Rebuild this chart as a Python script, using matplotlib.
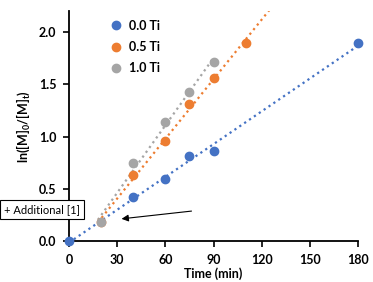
import numpy as np
import matplotlib
matplotlib.use('Agg')
import matplotlib.pyplot as plt

# данные
t_00 = [0, 40, 60, 75, 90, 180]
y_00 = [0.0, 0.42, 0.59, 0.81, 0.86, 1.89]

t_05 = [20, 40, 60, 75, 90, 110]
y_05 = [0.18, 0.63, 0.96, 1.31, 1.56, 1.89]

t_10 = [20, 40, 60, 75, 90]
y_10 = [0.18, 0.75, 1.14, 1.43, 1.71]

labels = ['0.0 Ti', '0.5 Ti', '1.0 Ti']
colors = ['#4472C4', '#ED7D31', '#A5A5A5']
x_ticks = [0, 30, 60, 90, 120, 150, 180]
y_ticks = [0.0, 0.5, 1.0, 1.5, 2.0]

plt.rcParams['font.family'] = ['Lato', 'DejaVu Sans']
plt.rcParams['font.weight'] = 'bold'
plt.rcParams['mathtext.fontset'] = 'custom'
plt.rcParams['mathtext.bf'] = 'Lato:bold'
plt.rcParams['mathtext.rm'] = 'Lato:bold'

fig = plt.figure(figsize=(3.73, 2.82), dpi=100)
ax = fig.add_axes([0.185, 0.145, 0.775, 0.816])

series = [(t_00, y_00), (t_05, y_05), (t_10, y_10)]
fit_ranges = [(0, 180), (18, 126), (18, 90)]

# линии тренда
for (t, y), (x0, x1), c in zip(series, fit_ranges, colors):
    k, b = np.polyfit(t, y, 1)
    xx = np.array([x0, x1])
    ax.plot(xx, k * xx + b, ':', color=c, lw=1.6, zorder=2)

# точки
for (t, y), c, lab in zip(series, colors, labels):
    ax.plot(t, y, 'o', color=c, ms=6, label=lab, zorder=3, clip_on=False)

ax.set_xlim(0, 180)
ax.set_ylim(0, 2.2)
ax.set_xticks(x_ticks)
ax.set_yticks(y_ticks)
ax.set_yticklabels([f'{v:.1f}' for v in y_ticks])
ax.tick_params(labelsize=9, width=1.2, length=4, colors='black', pad=5)
for s in ['top', 'right']:
    ax.spines[s].set_visible(False)
for s in ['left', 'bottom']:
    ax.spines[s].set_linewidth(1.3)

ax.set_xlabel('Time (min)', fontsize=9, fontweight='bold', labelpad=1)
ax.set_ylabel(r'ln([M]$_\mathbf{0}$/[M]$_\mathbf{t}$)', fontsize=9,
              fontweight='bold', labelpad=5)

ax.legend(loc='upper left', bbox_to_anchor=(0.09, 1.0), frameon=False,
          fontsize=9, handletextpad=0.0, labelspacing=0.75, borderpad=0.2,
          markerscale=1.0)

# стрелка и подпись
ax.annotate('', xy=(31, 0.21), xytext=(78, 0.29),
            arrowprops=dict(arrowstyle='-|>', color='black', lw=0.8,
                            mutation_scale=10))
ax.text(7, 0.30, '+ Additional [1]', ha='right', va='center', fontsize=8,
        fontweight='normal',
        bbox=dict(boxstyle='square,pad=0.35', fc='white', ec='black', lw=0.8),
        zorder=5, clip_on=False)

fig.savefig('out.png', dpi=100)
